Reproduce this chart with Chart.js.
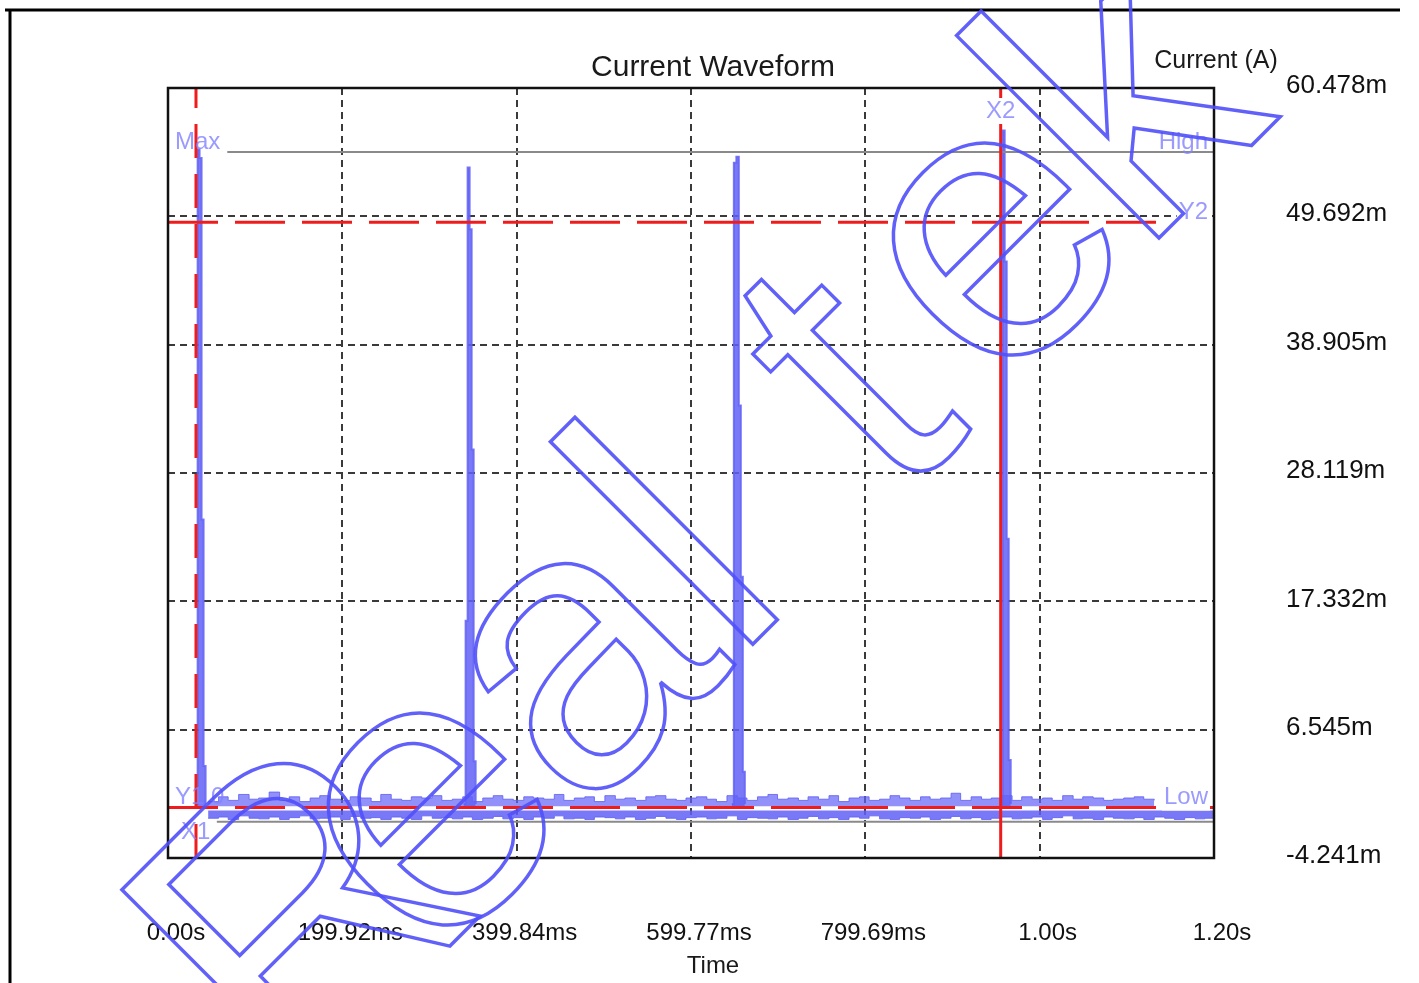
<!DOCTYPE html>
<html>
<head>
<meta charset="utf-8">
<title>Current Waveform</title>
<script src="https://cdn.jsdelivr.net/npm/chart.js@4.4.1/dist/chart.umd.min.js"></script>
<style>
html, body { margin: 0; padding: 0; background: #fff; }
canvas { display: block; }
</style>
</head>
<body>
<canvas id="mycanvas" width="1419" height="983"></canvas>
<script>
// axis ticks
var timeTicks = [0, 0.19992, 0.39984, 0.59977, 0.79969, 0.99961, 1.19953];
var timeLabels = ['0.00s', '199.92ms', '399.84ms', '599.77ms', '799.69ms', '1.00s', '1.20s'];
var currentTicks = [-4.241, 6.545, 17.332, 28.119, 38.905, 49.692, 60.478];
var currentLabels = ['-4.241m', '6.545m', '17.332m', '28.119m', '38.905m', '49.692m', '60.478m'];

// current pulses (s, mA)
var pulse1Times = [0.0322, 0.0340, 0.0362, 0.0385, 0.0408, 0.0431];
var pulse1Values = [0.3, 55.3, 54.6, 24.2, 3.5, 0.3];
var pulse2Times = [0.3390, 0.3413, 0.3436, 0.3459, 0.3482, 0.3505, 0.3528];
var pulse2Values = [0.3, 15.7, 53.8, 48.6, 30.1, 3.9, 0.3];
var pulse3Times = [0.6466, 0.6489, 0.6518, 0.6546, 0.6569, 0.6592, 0.6615];
var pulse3Values = [0.3, 54.2, 54.7, 33.8, 19.4, 3.0, 0.3];
var pulse4Times = [0.9560, 0.9572, 0.9595, 0.9618, 0.9641, 0.9664];
var pulse4Values = [0.3, 56.9, 45.9, 22.6, 4.0, 0.3];

// baseline noise (s, mA)
var noiseTimes = [
	0.046, 0.058, 0.069, 0.081, 0.093, 0.104, 0.116, 0.128, 0.139, 0.151,
	0.163, 0.174, 0.186, 0.198, 0.209, 0.221, 0.233, 0.244, 0.256, 0.268,
	0.279, 0.291, 0.303, 0.314, 0.326, 0.338, 0.349, 0.361, 0.373, 0.384,
	0.396, 0.408, 0.419, 0.431, 0.443, 0.454, 0.466, 0.478, 0.489, 0.501,
	0.513, 0.524, 0.536, 0.548, 0.559, 0.571, 0.583, 0.594, 0.606, 0.618,
	0.629, 0.641, 0.653, 0.664, 0.676, 0.688, 0.699, 0.711, 0.723, 0.734,
	0.746, 0.758, 0.769, 0.781, 0.793, 0.804, 0.816, 0.828, 0.839, 0.851,
	0.863, 0.874, 0.886, 0.898, 0.909, 0.921, 0.933, 0.944, 0.956, 0.968,
	0.979, 0.991, 1.003, 1.014, 1.026, 1.038, 1.049, 1.061, 1.073, 1.084,
	1.096, 1.108, 1.119, 1.131, 1.143, 1.154, 1.166, 1.178, 1.189, 1.199
];
var noiseHigh = [
	0.5, 0.9, 0.6, 1.1, 0.7, 0.8, 1.3, 0.6, 0.9, 0.5,
	0.8, 1.0, 0.7, 0.6, 0.9, 0.8, 0.5, 1.1, 0.7, 0.6,
	0.9, 0.8, 1.0, 0.6, 0.7, 0.9, 0.5, 0.8, 1.0, 0.7,
	0.6, 0.9, 0.8, 0.7, 1.1, 0.6, 0.8, 0.9, 0.5, 1.0,
	0.7, 0.8, 0.6, 0.9, 1.0, 0.7, 0.6, 0.8, 0.9, 0.7,
	0.5, 1.0, 0.8, 0.6, 0.9, 1.1, 0.7, 0.8, 0.6, 0.9,
	0.7, 1.0, 0.5, 0.8, 0.9, 0.6, 0.7, 1.0, 0.8, 0.6,
	0.9, 0.7, 0.8, 1.2, 0.6, 0.9, 0.7, 0.8, 1.0, 0.6,
	0.9, 0.7, 0.8, 0.6, 1.0, 0.7, 0.9, 0.8, 0.6, 0.7,
	0.8, 0.9, 0.7, 0.6
];
var noiseLow = [
	-0.9, -0.8, -1.0, -0.7, -0.9, -0.95, -0.8, -1.0, -0.85, -0.7,
	-0.95, -0.9, -0.8, -1.0, -0.75, -0.9, -0.85, -1.0, -0.8, -0.9,
	-1.0, -0.7, -0.9, -0.85, -0.95, -0.8, -1.0, -0.9, -0.75, -0.95,
	-0.85, -1.0, -0.8, -0.9, -0.7, -0.95, -0.9, -1.0, -0.8, -0.85,
	-0.95, -0.8, -1.0, -0.9, -0.75, -0.9, -1.0, -0.85, -0.8, -0.95,
	-0.9, -0.7, -1.0, -0.85, -0.9, -0.95, -0.8, -1.0, -0.9, -0.75,
	-0.95, -0.85, -1.0, -0.8, -0.9, -0.7, -0.95, -1.0, -0.85, -0.9,
	-0.8, -1.0, -0.9, -0.75, -0.95, -0.85, -1.0, -0.9, -0.8, -0.95,
	-0.9, -0.8, -1.0, -0.85, -0.7, -0.95, -0.9, -1.0, -0.8, -0.9,
	-0.95, -0.85, -1.0, -0.8, -0.9, -1.0, -0.85, -0.95, -0.9, -1.0
];

// cursors and limits
var cursorTimes = [0.0321, 0.9549];   // X1, X2
var cursorLevels = [0.0, 49.2];       // Y1, Y2
var limitLevels = [55.1, -1.2];       // High (Max), Low

var tMin = 0, tMax = 1.19953;
var iMin = -4.241, iMax = 60.478;
var FONT = '"Liberation Sans", Arial, sans-serif';
var blue = 'rgba(98, 98, 246, 0.85)';
var red = '#ee1c1c';
var grey = '#8a8a8a';

function points(times, values) {
	var pts = [];
	for (var i = 0; i < times.length; i++) {
		if (values[i] !== undefined) pts.push({x: times[i], y: values[i]});
	}
	return pts;
}

function pulse(times, values) {
	return {
		data: points(times, values),
		showLine: true, stepped: true,
		borderColor: blue, backgroundColor: blue,
		borderWidth: 2, fill: 'origin', order: 2
	};
}

var decorations = {
	id: 'decorations',
	beforeDraw: function(chart) {
		var ctx = chart.ctx;
		ctx.save();
		ctx.fillStyle = '#fff';
		ctx.fillRect(0, 0, chart.width, chart.height);
		ctx.strokeStyle = '#000';
		ctx.lineWidth = 3;
		ctx.beginPath();
		ctx.moveTo(5, 10); ctx.lineTo(1400, 10);
		ctx.moveTo(10, 10); ctx.lineTo(10, 983);
		ctx.stroke();
		ctx.restore();
	},
	afterDatasetsDraw: function(chart) {
		var ctx = chart.ctx, a = chart.chartArea;
		var xs = chart.scales.x, ys = chart.scales.y;
		ctx.save();
		ctx.font = '24px ' + FONT;
		ctx.textBaseline = 'middle';
		function tag(txt, x, y, align, bg) {
			ctx.textAlign = align;
			var w = ctx.measureText(txt).width;
			if (bg) {
				var left = align == 'right' ? x - w : (align == 'center' ? x - w / 2 : x);
				ctx.fillStyle = '#fff';
				ctx.fillRect(left - 2, y - 13, w + 4, 26);
			}
			ctx.fillStyle = 'rgba(130, 130, 255, 0.8)';
			ctx.fillText(txt, x, y);
		}
		var yHigh = ys.getPixelForValue(limitLevels[0]);
		var yY1 = ys.getPixelForValue(cursorLevels[0]);
		var yY2 = ys.getPixelForValue(cursorLevels[1]);
		tag('Max', a.left + 7, yHigh - 10, 'left', false);
		tag('High', a.right - 6, yHigh - 10, 'right', false);
		tag('X2', xs.getPixelForValue(cursorTimes[1]), a.top + 23, 'center', true);
		tag('Y2', a.right - 6, yY2 - 10, 'right', true);
		tag('Low', a.right - 6, yY1 - 10, 'right', true);
		tag('Y1 0', a.left + 7, yY1 - 10, 'left', false);
		tag('X1', a.left + 13, yY1 + 25, 'left', false);
		// plot frame
		ctx.strokeStyle = '#111';
		ctx.lineWidth = 2.5;
		ctx.strokeRect(a.left, a.top, a.right - a.left, a.bottom - a.top);
		ctx.restore();
	},
	afterDraw: function(chart) {
		var ctx = chart.ctx;
		ctx.save();
		ctx.fillStyle = '#1a1a1a';
		ctx.textAlign = 'center';
		ctx.textBaseline = 'middle';
		ctx.font = '30px ' + FONT;
		ctx.fillText('Current Waveform', 713, 68);
		ctx.font = '25px ' + FONT;
		ctx.fillText('Current (A)', 1216, 61);
		ctx.font = '24px ' + FONT;
		ctx.fillText('Time', 713, 966);

		// watermark
		var letters = ['R', 'e', 'a', 'l', 't', 'e', 'k'];
		var spots = [[392, 1004], [508, 893], [658, 743], [765, 632], [935, 467], [1073, 323], [1210, 187]];
		ctx.font = '395px ' + FONT;
		ctx.textBaseline = 'alphabetic';
		ctx.strokeStyle = 'rgba(80, 80, 250, 0.9)';
		ctx.lineWidth = 3.5;
		ctx.lineJoin = 'miter';
		for (var i = 0; i < letters.length; i++) {
			ctx.save();
			ctx.translate(spots[i][0], spots[i][1]);
			ctx.rotate(-Math.PI / 4);
			ctx.strokeText(letters[i], 0, 0);
			ctx.restore();
		}
		ctx.restore();
	}
};

var ctx = document.getElementById('mycanvas');

var chart = new Chart(ctx, {
	type: 'scatter',
	data: {
		datasets: [
			{
				label: 'X1',
				data: [{x: cursorTimes[0], y: iMin}, {x: cursorTimes[0], y: iMax}],
				showLine: true, borderColor: red, borderWidth: 3, borderDash: [34, 16], order: 0
			},
			{
				label: 'X2',
				data: [{x: cursorTimes[1], y: iMin}, {x: cursorTimes[1], y: iMax}],
				showLine: true, borderColor: red, borderWidth: 3, order: 0
			},
			{
				label: 'Y1',
				data: [{x: tMin, y: cursorLevels[0]}, {x: tMax, y: cursorLevels[0]}],
				showLine: true, borderColor: red, borderWidth: 3, borderDash: [50, 17], order: 0
			},
			{
				label: 'Y2',
				data: [{x: tMin, y: cursorLevels[1]}, {x: 1.143, y: cursorLevels[1]}],
				showLine: true, borderColor: red, borderWidth: 3, borderDash: [50, 17], order: 0
			},
			{
				label: 'High',
				data: [{x: 0.068, y: limitLevels[0]}, {x: tMax, y: limitLevels[0]}],
				showLine: true, borderColor: grey, borderWidth: 2, order: 1
			},
			{
				label: 'Low',
				data: [{x: 0.056, y: limitLevels[1]}, {x: tMax, y: limitLevels[1]}],
				showLine: true, borderColor: grey, borderWidth: 2, order: 1
			},
			pulse(pulse1Times, pulse1Values),
			pulse(pulse2Times, pulse2Values),
			pulse(pulse3Times, pulse3Values),
			pulse(pulse4Times, pulse4Values),
			{
				label: 'noise high',
				data: points(noiseTimes, noiseHigh),
				showLine: true, stepped: true,
				borderColor: blue, backgroundColor: 'rgba(98, 98, 246, 0.7)', borderWidth: 1,
				fill: {value: 0.1}, order: 3
			},
			{
				label: 'noise low',
				data: points(noiseTimes, noiseLow),
				showLine: true, stepped: true,
				borderColor: blue, backgroundColor: blue, borderWidth: 1,
				fill: {value: -0.25}, order: 3
			}
		]
	},
	options: {
		responsive: false,
		animation: false,
		layout: {padding: {left: 168, top: 88, right: 0, bottom: 0}},
		elements: {point: {radius: 0, hoverRadius: 0}},
		plugins: {
			legend: {display: false},
			tooltip: {enabled: false}
		},
		scales: {
			x: {
				type: 'linear',
				position: 'bottom',
				min: tMin,
				max: tMax,
				afterFit: function(scale) { scale.height = 125; },
				afterBuildTicks: function(scale) {
					scale.ticks = timeTicks.map(function(v) { return {value: v}; });
				},
				ticks: {
					callback: function(v, i) { return timeLabels[i]; },
					padding: 61, labelOffset: 8, maxRotation: 0, autoSkip: false,
					color: '#111', font: {family: FONT, size: 24}
				},
				grid: {color: '#3a3a3a', lineWidth: 2, drawTicks: false},
				border: {display: false, dash: [7, 5]}
			},
			y: {
				type: 'linear',
				position: 'right',
				min: iMin,
				max: iMax,
				afterFit: function(scale) { scale.width = 205; },
				afterBuildTicks: function(scale) {
					scale.ticks = currentTicks.map(function(v) { return {value: v}; });
				},
				ticks: {
					callback: function(v, i) { return currentLabels[i]; },
					padding: 72, labelOffset: -2, autoSkip: false,
					color: '#111', font: {family: FONT, size: 26}
				},
				grid: {color: '#3a3a3a', lineWidth: 2, drawTicks: false},
				border: {display: false, dash: [7, 5]}
			}
		}
	},
	plugins: [decorations]
});
</script>
</body>
</html>
